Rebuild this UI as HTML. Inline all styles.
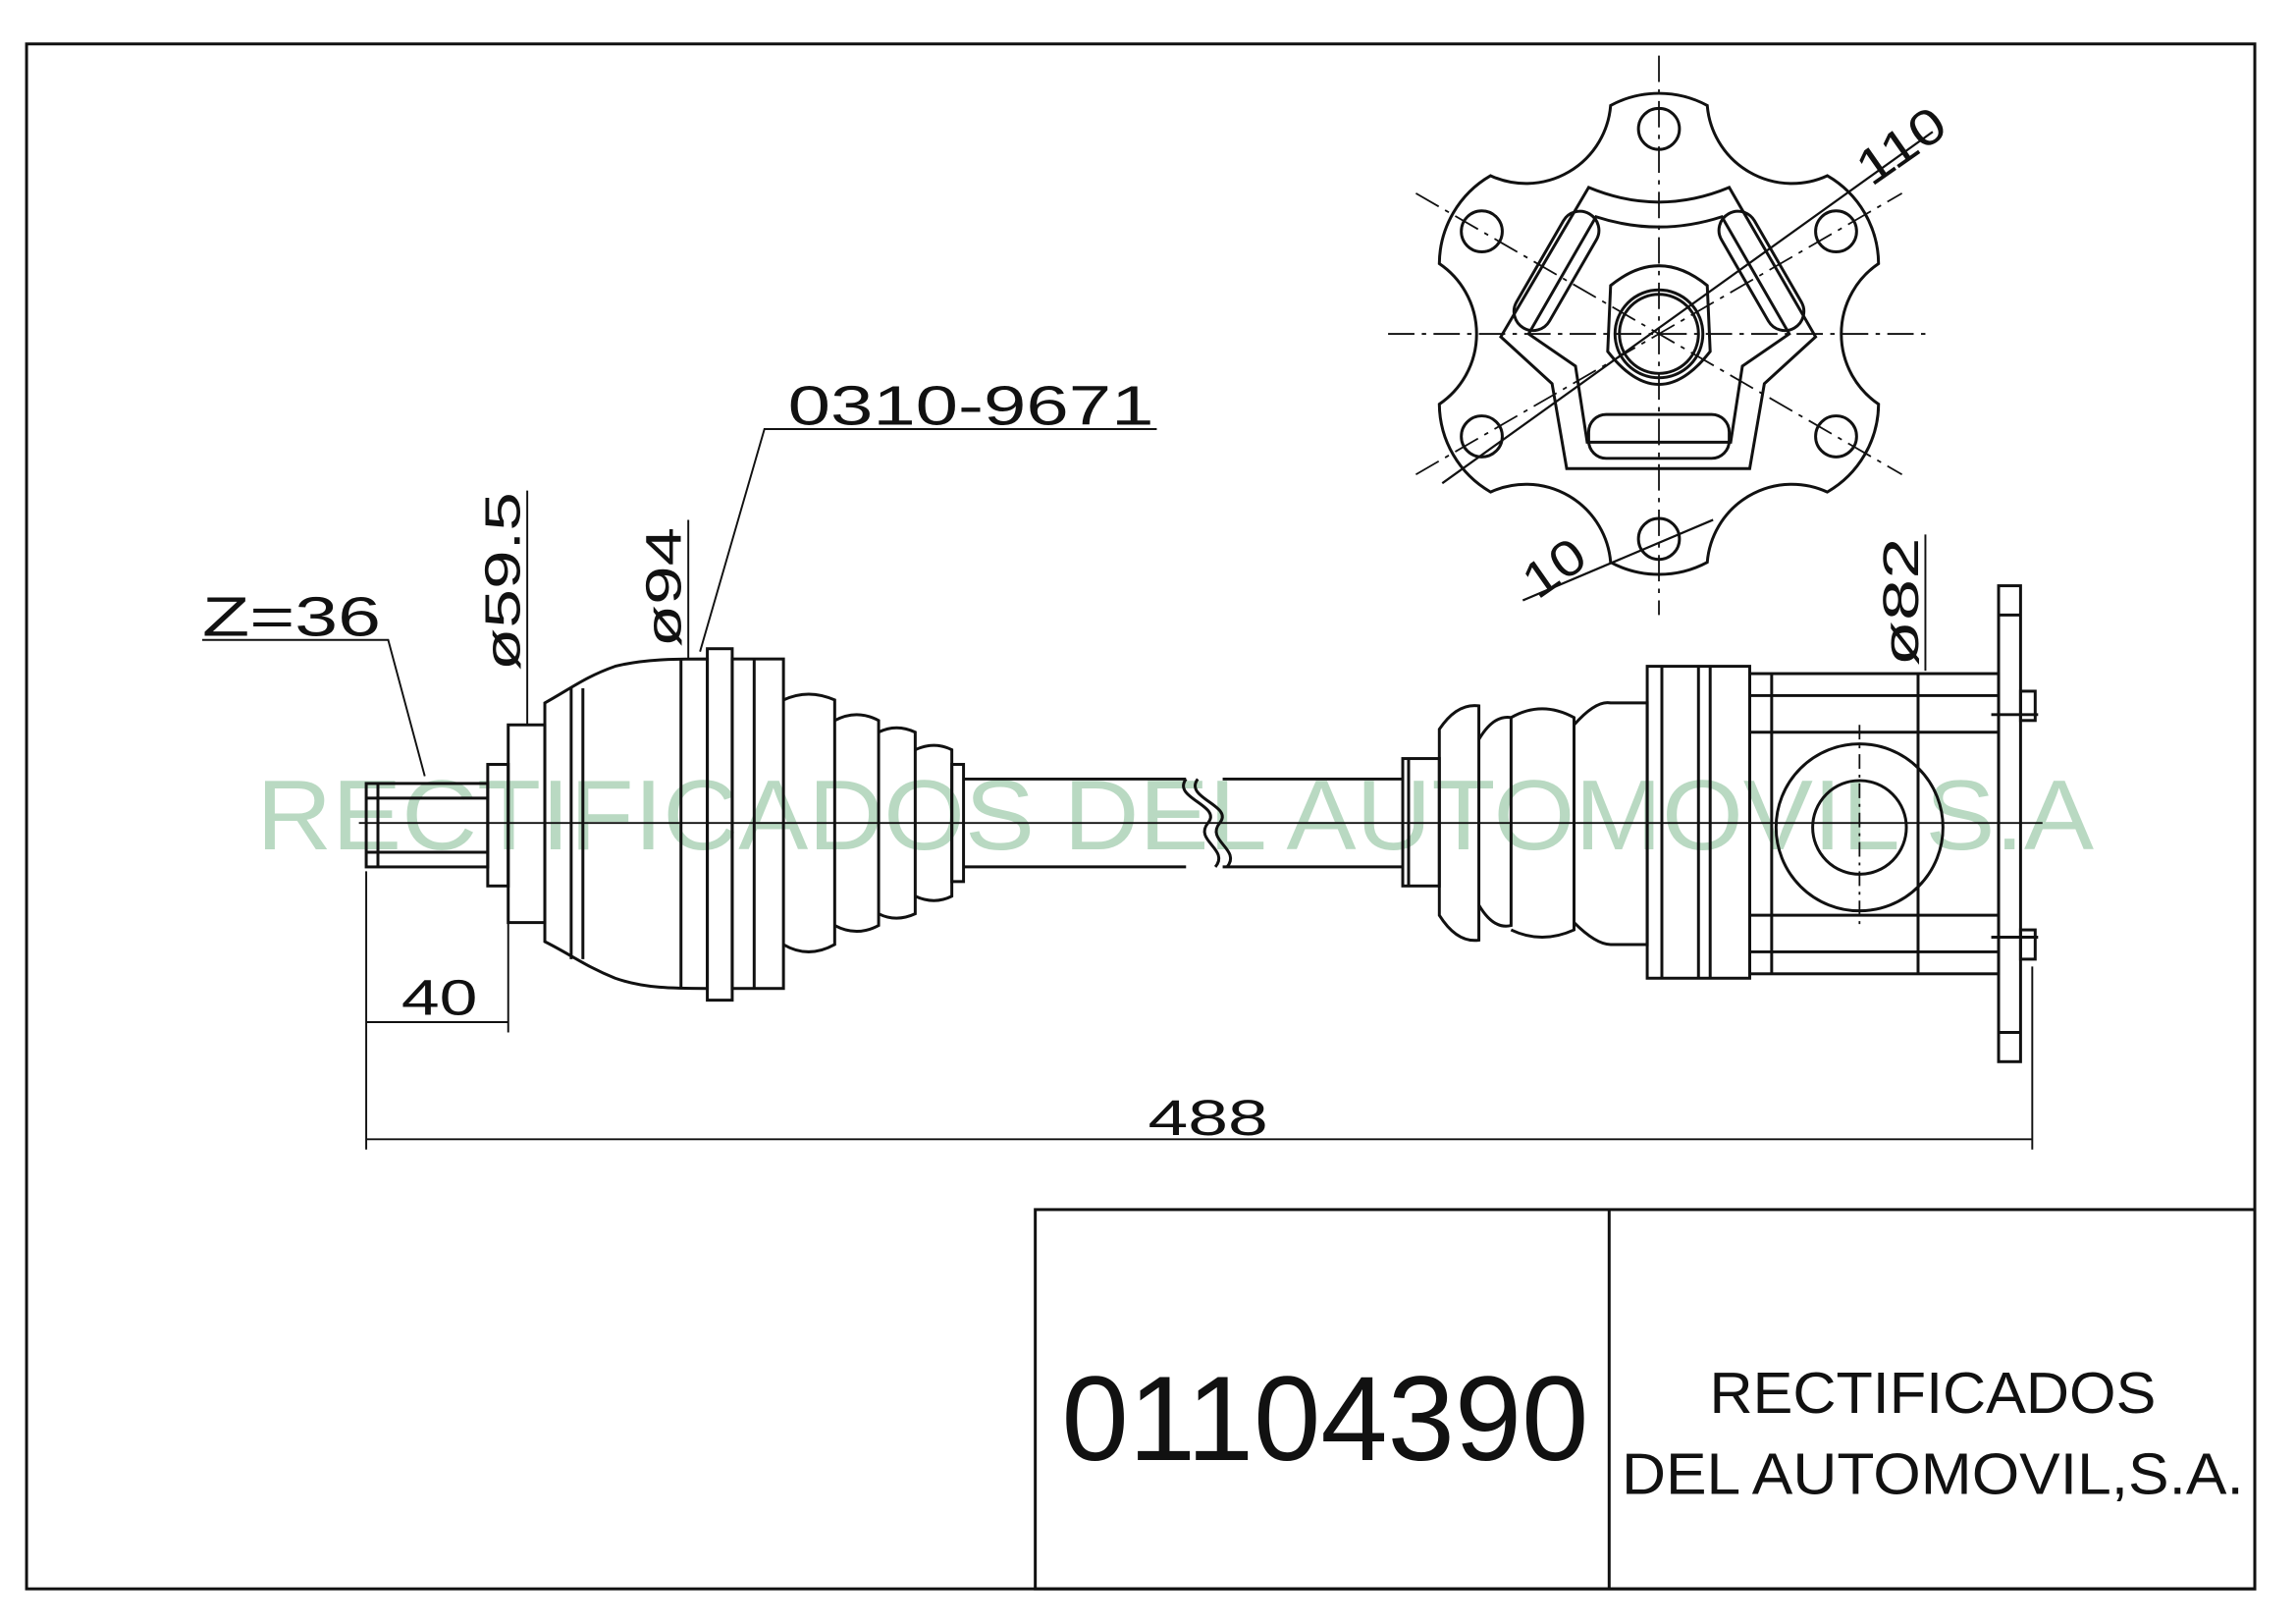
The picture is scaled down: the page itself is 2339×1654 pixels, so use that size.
<!DOCTYPE html>
<html><head><meta charset="utf-8"><style>
html,body{margin:0;padding:0;background:#fff}
svg{display:block}
text{font-family:"Liberation Sans",sans-serif}
</style></head><body>
<svg width="2339" height="1654" viewBox="0 0 1568 1109" xmlns="http://www.w3.org/2000/svg">
<rect x="0" y="0" width="1568" height="1109" fill="#fff"/>
<g fill="none" stroke="#111" stroke-width="1.8">
<rect x="18" y="30" width="1522" height="1055" stroke-width="2"/>
<rect x="707" y="826" width="833" height="259" stroke-width="2"/>
<line x1="1099" y1="826" x2="1099" y2="1085" stroke-width="2"/>
</g>
<text x="175" y="580" font-size="68" fill="#b9d9c2" textLength="1255" lengthAdjust="spacingAndGlyphs">RECTIFICADOS DEL AUTOMOVIL S.A</text>

<g fill="none" stroke="#111" stroke-width="2">
<line x1="245" y1="562" x2="1395" y2="562" stroke-width="1.2"/>
<rect x="250" y="535" width="83" height="57"/>
<line x1="250" y1="545" x2="333" y2="545"/><line x1="250" y1="582" x2="333" y2="582"/>
<line x1="258" y1="535" x2="258" y2="592"/>
<rect x="333" y="522" width="14" height="83"/>
<rect x="347" y="495" width="25" height="135"/>
<path d="M372,480 C390,470 400,462 420,455 C440,450 460,450 483,450 L483,675 C460,675 440,675 420,668 C400,660 390,652 372,643 Z"/>
<line x1="390" y1="470" x2="390" y2="655"/><line x1="398" y1="470" x2="398" y2="655"/>
<line x1="465" y1="450" x2="465" y2="675"/>
<rect x="483" y="443" width="17" height="240"/>
<rect x="500" y="450" width="35" height="225"/>
<line x1="515" y1="450" x2="515" y2="675"/>
<path d="M535,478 Q552,470 570,478 L570,645 Q552,655 535,645"/>
<path d="M570,492 Q585,484 600,492 L600,632 Q585,640 570,632"/>
<path d="M600,500 Q612,494 625,500 L625,624 Q612,630 600,624"/>
<path d="M625,512 Q638,506 650,512 L650,612 Q638,618 625,612"/>
<rect x="650" y="522" width="8" height="80"/>
<line x1="658" y1="532" x2="810" y2="532"/><line x1="658" y1="592" x2="810" y2="592"/>
<line x1="835" y1="532" x2="958" y2="532"/><line x1="835" y1="592" x2="958" y2="592"/>
<path d="M810,532 C800,545 835,550 825,562 C815,574 840,580 830,592"/>
<path d="M818,532 C808,545 843,550 833,562 C823,574 848,580 838,592"/>
<rect x="958" y="518" width="25" height="87"/>
<line x1="962" y1="518" x2="962" y2="605"/>
<path d="M983,498 Q995,480 1010,482 L1010,642 Q995,644 983,625 Z"/>
<path d="M1010,505 Q1020,488 1032,490 L1032,632 Q1020,635 1010,618"/>
<path d="M1032,490 Q1053,478 1075,490 L1075,635 Q1053,645 1032,635"/>
<path d="M1075,495 Q1090,478 1100,480 L1125,480 L1125,645 L1100,645 Q1090,645 1075,630"/>
<rect x="1125" y="455" width="70" height="213"/>
<line x1="1160" y1="455" x2="1160" y2="668"/><line x1="1168" y1="455" x2="1168" y2="668"/>
<line x1="1135" y1="455" x2="1135" y2="668"/>
<rect x="1195" y="460" width="170" height="205"/>
<line x1="1195" y1="475" x2="1365" y2="475"/><line x1="1195" y1="500" x2="1365" y2="500"/>
<line x1="1195" y1="625" x2="1365" y2="625"/><line x1="1195" y1="650" x2="1365" y2="650"/>
<line x1="1210" y1="460" x2="1210" y2="665"/><line x1="1310" y1="460" x2="1310" y2="665"/>
<circle cx="1270" cy="565" r="57"/><circle cx="1270" cy="565" r="32"/>
<line x1="1270" y1="495" x2="1270" y2="635" stroke-width="1.2" stroke-dasharray="10,4,2,4"/>
<rect x="1365" y="400" width="15" height="325"/>
<line x1="1365" y1="420" x2="1380" y2="420"/><line x1="1365" y1="705" x2="1380" y2="705"/>
<rect x="1380" y="472" width="10" height="20"/><rect x="1380" y="635" width="10" height="20"/>
<line x1="1360" y1="488" x2="1392" y2="488"/><line x1="1360" y1="640" x2="1392" y2="640"/>

<g stroke-width="1.3">
<line x1="250" y1="595" x2="250" y2="785"/>
<line x1="347" y1="610" x2="347" y2="705"/>
<line x1="250" y1="698" x2="347" y2="698"/>
<line x1="1388" y1="660" x2="1388" y2="785"/>
<line x1="250" y1="778" x2="1388" y2="778"/>
<line x1="360" y1="335" x2="360" y2="495"/>
<line x1="470" y1="355" x2="470" y2="450"/>
<line x1="1315" y1="365" x2="1315" y2="458"/>
<polyline points="138,437 265,437 290,530"/>
<polyline points="790,293 522,293 478,445"/>
</g>

<g stroke-width="1.2" stroke-dasharray="18,5,3,5">
<line x1="948" y1="228" x2="1318" y2="228"/>
<line x1="1133" y1="38" x2="1133" y2="420"/>
<line x1="967" y1="132" x2="1299" y2="324"/>
<line x1="967" y1="324" x2="1299" y2="132"/>
</g>
<path d="M1100,72 A70,70 0 0 1 1166,72 A58,58 0 0 0 1248,120 A70,70 0 0 1 1283,180 A58,58 0 0 0 1283,276 A70,70 0 0 1 1248,336 A58,58 0 0 0 1166,384 A70,70 0 0 1 1100,384 A58,58 0 0 0 1018,336 A70,70 0 0 1 983,276 A58,58 0 0 0 983,180 A70,70 0 0 1 1018,120 A58,58 0 0 0 1100,72 Z"/>
<circle cx="1133" cy="88" r="14"/><circle cx="1254" cy="158" r="14"/><circle cx="1254" cy="298" r="14"/>
<circle cx="1133" cy="368" r="14"/><circle cx="1012" cy="298" r="14"/><circle cx="1012" cy="158" r="14"/>
<path d="M1085,128 Q1133,148 1181,128 L1240,230 L1205,262 L1195,320 L1070,320 L1060,262 L1025,230 Z"/>
<path d="M1090,148 Q1133,162 1176,148 L1222,228 L1190,250 L1182,302 L1084,302 L1076,250 L1044,228 Z"/>
<rect x="1050" y="140" width="26" height="90" rx="13" transform="rotate(30 1063 185)"/>
<rect x="1190" y="140" width="26" height="90" rx="13" transform="rotate(-30 1203 185)"/>
<rect x="1085" y="283" width="96" height="30" rx="12"/>
<path d="M1100,195 Q1133,168 1166,195 L1168,240 Q1133,285 1098,240 Z"/>
<circle cx="1133" cy="228" r="30"/><circle cx="1133" cy="228" r="27"/>
<line x1="985" y1="330" x2="1320" y2="90" stroke-width="1.5"/>
<line x1="1040" y1="410" x2="1170" y2="355" stroke-width="1.5"/>
</g>

<g fill="#111">
<text x="300" y="693" font-size="34" text-anchor="middle" textLength="52" lengthAdjust="spacingAndGlyphs">40</text>
<text x="825" y="775" font-size="34" text-anchor="middle" textLength="82" lengthAdjust="spacingAndGlyphs">488</text>
<text x="138" y="434" font-size="38" textLength="122" lengthAdjust="spacingAndGlyphs">Z=36</text>
<text x="538" y="290" font-size="38" textLength="250" lengthAdjust="spacingAndGlyphs">0310-9671</text>
<text transform="translate(355,458) rotate(-90)" font-size="34" textLength="122" lengthAdjust="spacingAndGlyphs">ø59.5</text>
<text transform="translate(465,442) rotate(-90)" font-size="34" textLength="82" lengthAdjust="spacingAndGlyphs">ø94</text>
<text transform="translate(1310,455) rotate(-90)" font-size="34" textLength="88" lengthAdjust="spacingAndGlyphs">ø82</text>
<text transform="translate(1278,128) rotate(-35)" font-size="34" textLength="66" lengthAdjust="spacingAndGlyphs">110</text>
<text transform="translate(1050,410) rotate(-35)" font-size="34" textLength="44" lengthAdjust="spacingAndGlyphs">10</text>
<text x="725" y="997" font-size="82" textLength="360" lengthAdjust="spacingAndGlyphs">01104390</text>
<text x="1320" y="965" font-size="40" text-anchor="middle" textLength="305" lengthAdjust="spacingAndGlyphs">RECTIFICADOS</text>
<text x="1320" y="1020" font-size="40" text-anchor="middle" textLength="425" lengthAdjust="spacingAndGlyphs">DEL AUTOMOVIL,S.A.</text>
</g>
</svg>
</body></html>
